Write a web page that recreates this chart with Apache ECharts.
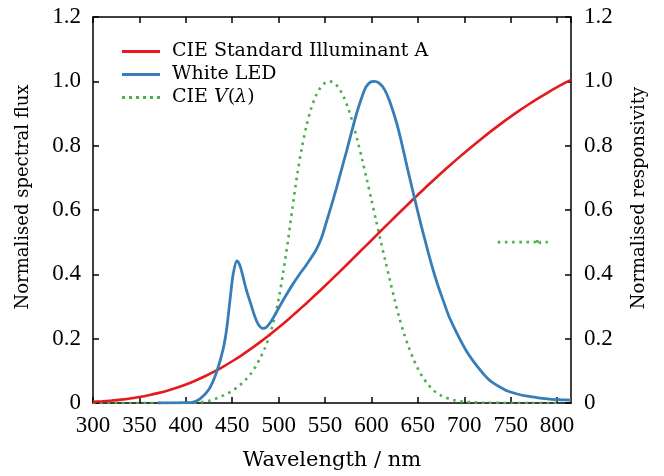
<!DOCTYPE html>
<html>
<head>
<meta charset="utf-8">
<script src="https://cdn.jsdelivr.net/npm/echarts@6/dist/echarts.min.js"></script>
<style>html,body{margin:0;padding:0;background:#fff}#c{width:664px;height:476px}</style>
</head>
<body>
<div id="c"></div>
<script>
// Data
const illumA_wl = [300,310,320,330,340,350,360,370,380,390,400,410,420,430,440,450,460,470,480,490,500,510,520,530,540,550,560,570,580,590,600,610,620,630,640,650,660,670,680,690,700,710,720,730,740,750,760,770,780,790,800,810,815];
const illumA_val = [0.0036,0.0053,0.0076,0.0104,0.0141,0.0186,0.0241,0.0307,0.0384,0.0474,0.0577,0.0693,0.0823,0.0967,0.1125,0.1298,0.1483,0.1681,0.1892,0.2114,0.2347,0.2591,0.2843,0.3103,0.3371,0.3644,0.3922,0.4203,0.4488,0.4774,0.5060,0.5347,0.5632,0.5915,0.6195,0.6472,0.6744,0.7011,0.7272,0.7527,0.7775,0.8016,0.8249,0.8475,0.8693,0.8902,0.9103,0.9295,0.9478,0.9652,0.9817,0.9973,1.0045];

const led_wl = [370,400,408,415,425,433,440,444,448,451,455,458,461,465,470,474,478,483,487,491,496,501,508,515,522,530,540,546,551,556,562,567,573,578,584,589,594,599,603,608,614,620,627,632,637,642,647,652,656,661,667,672,678,683,689,695,701,707,714,721,728,737,746,757,768,780,792,805,815];
const led_val = [0,0.001,0.003,0.012,0.043,0.095,0.165,0.23,0.33,0.40,0.442,0.43,0.40,0.354,0.308,0.272,0.245,0.232,0.236,0.25,0.274,0.300,0.335,0.368,0.398,0.430,0.474,0.512,0.558,0.606,0.665,0.718,0.781,0.836,0.900,0.945,0.982,0.998,1.0,0.995,0.975,0.935,0.872,0.815,0.752,0.690,0.630,0.570,0.525,0.470,0.408,0.362,0.313,0.273,0.235,0.200,0.168,0.141,0.114,0.089,0.069,0.052,0.038,0.028,0.021,0.016,0.012,0.010,0.009];

const v_wl = [300,340,375,380,385,390,395,400,405,410,415,420,425,430,435,440,445,450,455,460,465,470,475,480,485,490,495,500,505,510,515,520,525,530,535,540,545,550,555,560,565,570,575,580,585,590,595,600,605,610,615,620,625,630,635,640,645,650,655,660,665,670,675,680,685,690,695,700,705,710,720,730,740,750,760,770,780,790,800];
const v_val = [0,0,0,0.00004,0.00006,0.00012,0.00022,0.0004,0.0006,0.0012,0.0022,0.004,0.0073,0.0116,0.0168,0.023,0.0298,0.038,0.048,0.06,0.0739,0.091,0.1126,0.139,0.1693,0.208,0.2586,0.323,0.4073,0.503,0.6082,0.71,0.7932,0.862,0.9149,0.954,0.9803,0.995,1.0,0.995,0.9786,0.952,0.9154,0.87,0.8163,0.757,0.6949,0.631,0.5668,0.503,0.4412,0.381,0.321,0.265,0.217,0.175,0.1382,0.107,0.0816,0.061,0.0446,0.032,0.0232,0.017,0.0119,0.0082,0.0057,0.0041,0.0029,0.0021,0.001,0.0005,0.00025,0.00012,0.00006,0.00003,0.000015,0,0];

// short stray dotted segment in the reference
const stray_wl = [736,776,778,780,782,790];
const stray_val = [0.5,0.5,0.512,0.49,0.5,0.5];

const xTicks = [300,350,400,450,500,550,600,650,700,750,800];
const yTicks = [0,0.2,0.4,0.6,0.8,1.0,1.2];

const zip = (a,b) => a.map((x,i)=>[x,b[i]]);

const NUM_FONT = 'Liberation Serif';
const TXT_FONT = 'DejaVu Serif';
const numLabel = v => v === 0 ? '0' : v.toFixed(1);
const DOTS_ICON = 'path://M0,0h3v3h-3z M7,0h3v3h-3z M14,0h3v3h-3z M21,0h3v3h-3z M28,0h3v3h-3z M35,0h3v3h-3z';

const chart = echarts.init(document.getElementById('c'), null, {renderer:'canvas'});
const axisCommon = {
  axisLine:{show:true, onZero:false, lineStyle:{color:'#000', width:1.5}},
  axisTick:{show:true, inside:true, length:6, lineStyle:{color:'#000', width:1.5}},
  splitLine:{show:false}
};
chart.setOption({
  animation:false,
  backgroundColor:'#fff',
  grid:{left:93, right:93, top:17, bottom:72},
  legend:{
    orient:'vertical', left:117, top:37, itemWidth:38, itemHeight:3, itemGap:4,
    data:[
      {name:'CIE Standard Illuminant A', icon:'rect'},
      {name:'White LED', icon:'rect'},
      {name:'CIE V(λ)', icon:DOTS_ICON}
    ],
    formatter: n => n === 'CIE V(λ)' ? '{n|CIE }{i|V}{n|(}{i|λ}{n|)}' : '{n|' + n + '}',
    textStyle:{fontFamily:TXT_FONT, fontSize:19, color:'#000', padding:[0,0,0,7],
      rich:{n:{fontFamily:TXT_FONT, fontSize:19, color:'#000'}, i:{fontFamily:TXT_FONT, fontSize:19, fontStyle:'italic', color:'#000'}}}
  },
  graphic:[
    {type:'text', x:23, y:197, rotation:Math.PI/2,
      style:{text:'Normalised spectral flux', fontFamily:TXT_FONT, fontSize:18, fill:'#000', align:'center', verticalAlign:'middle'}},
    {type:'text', x:639, y:198, rotation:Math.PI/2,
      style:{text:'Normalised responsivity', fontFamily:TXT_FONT, fontSize:18, fill:'#000', align:'center', verticalAlign:'middle'}}
  ],
  xAxis:[
    Object.assign({type:'value', position:'bottom', min:300, max:815, interval:50,
      name:'Wavelength / nm', nameLocation:'middle', nameGap:47,
      nameTextStyle:{fontFamily:TXT_FONT, fontSize:21, color:'#000'},
      axisLabel:{fontFamily:NUM_FONT, fontSize:23, color:'#000', margin:11, showMaxLabel:false,
        formatter: v => xTicks.includes(v) ? String(v) : ''}}, axisCommon),
    Object.assign({type:'value', position:'top', min:300, max:815, interval:50,
      axisLabel:{show:false}}, axisCommon)
  ],
  yAxis:[
    Object.assign({type:'value', position:'left', min:0, max:1.2, interval:0.2,
      axisLabel:{fontFamily:NUM_FONT, fontSize:23, color:'#000', margin:12, formatter:numLabel}}, axisCommon),
    Object.assign({type:'value', position:'right', min:0, max:1.2, interval:0.2,
      axisLabel:{fontFamily:NUM_FONT, fontSize:23, color:'#000', margin:13, formatter:numLabel}}, axisCommon)
  ],
  series:[
    {name:'CIE Standard Illuminant A', type:'line', data:zip(illumA_wl, illumA_val), smooth:0.3, symbol:'none',
      lineStyle:{color:'#e41a1c', width:2.6}, itemStyle:{color:'#e41a1c'}, z:3},
    {name:'White LED', type:'line', data:zip(led_wl, led_val), smooth:0.3, symbol:'none',
      lineStyle:{color:'#377eb8', width:2.8}, itemStyle:{color:'#377eb8'}, z:4},
    {name:'CIE V(λ)', type:'line', yAxisIndex:1, data:zip(v_wl, v_val), smooth:0.3, symbol:'none',
      lineStyle:{color:'#4daf4a', width:2.6, type:[2.6,4.6]}, itemStyle:{color:'#4daf4a'}, z:2},
    {name:'stray', type:'line', yAxisIndex:1, data:zip(stray_wl, stray_val), symbol:'none',
      lineStyle:{color:'#4daf4a', width:2.6, type:[2.6,4.6]}, itemStyle:{color:'#4daf4a'}, z:2}
  ]
});
</script>
</body>
</html>
